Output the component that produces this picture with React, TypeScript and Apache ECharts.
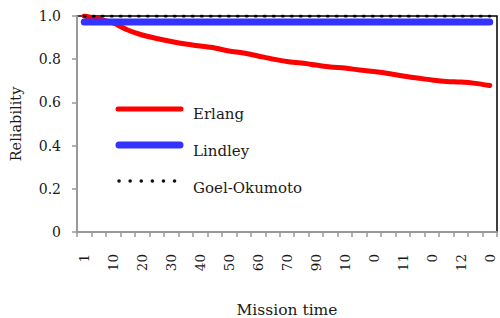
import React, { useEffect, useRef } from "react";
import * as echarts from "echarts";

const tickLabels = ["1", "10", "20", "30", "40", "50", "60", "70", "90", "10", "0", "11", "0", "12", "0"];

const seriesNames = ["Erlang", "Lindley", "Goel-Okumoto"];

const erlang = [
  1.0, 0.986, 0.968, 0.935, 0.912, 0.896, 0.882, 0.87, 0.861, 0.852,
  0.838, 0.829, 0.815, 0.801, 0.789, 0.782, 0.773, 0.764, 0.759, 0.75,
  0.743, 0.734, 0.722, 0.713, 0.704, 0.697, 0.694, 0.688, 0.678,
];

const lindley = [
  0.972, 0.972, 0.972, 0.972, 0.972, 0.972, 0.972, 0.972, 0.972, 0.972,
  0.972, 0.972, 0.972, 0.972, 0.972, 0.972, 0.972, 0.972, 0.972, 0.972,
  0.972, 0.972, 0.972, 0.972, 0.972, 0.972, 0.972, 0.972, 0.972,
];

const goel = [
  1.0, 1.0, 1.0, 1.0, 1.0, 1.0, 1.0, 1.0, 1.0, 1.0,
  1.0, 1.0, 1.0, 1.0, 1.0, 1.0, 1.0, 1.0, 1.0, 1.0,
  1.0, 1.0, 1.0, 1.0, 1.0, 1.0, 1.0, 1.0, 1.0,
];

const FONT = "DejaVu Serif";
const RED = "#ff0000";
const BLUE = "#3333ff";
const TEXT = "#1a1a1a";

export default function App() {
  const ref = useRef<HTMLDivElement>(null);
  useEffect(() => {
    if (!ref.current) return;
    const chart = echarts.init(ref.current, undefined, { renderer: "svg" });
    const categories: string[] = [];
    for (let i = 0; i < erlang.length; i++) {
      categories.push(i % 2 === 0 ? tickLabels[i / 2] ?? "" : "");
    }
    const legendText = (text: string, y: number) => ({
      type: "text",
      x: 193,
      y,
      style: {
        text,
        fontFamily: FONT,
        fontSize: 15,
        fill: TEXT,
        verticalAlign: "middle",
        align: "left",
      },
      z: 10,
    });
    chart.setOption({
      animation: false,
      backgroundColor: "#fff",
      textStyle: { fontFamily: FONT },
      grid: {
        left: 77,
        right: 3,
        top: 16,
        bottom: 86,
        containLabel: false,
        outerBoundsMode: "none",
        show: true,
        borderColor: "#000",
        borderWidth: 1.5,
        backgroundColor: "transparent",
      },
      graphic: [
        {
          type: "line",
          shape: { x1: 118, y1: 109, x2: 181, y2: 109 },
          style: { stroke: RED, lineWidth: 5, lineCap: "round" },
          z: 10,
        },
        legendText(seriesNames[0], 114),
        {
          type: "line",
          shape: { x1: 119, y1: 145, x2: 180, y2: 145 },
          style: { stroke: BLUE, lineWidth: 7, lineCap: "round" },
          z: 10,
        },
        legendText(seriesNames[1], 151),
        {
          type: "line",
          shape: { x1: 119, y1: 181, x2: 177, y2: 181 },
          style: { stroke: "#111", lineWidth: 3.5, lineCap: "round", lineDash: [0.1, 11] },
          z: 10,
        },
        legendText(seriesNames[2], 188),
      ],
      xAxis: {
        type: "category",
        data: categories,
        boundaryGap: true,
        name: "Mission time",
        nameLocation: "middle",
        nameGap: 70,
        nameTextStyle: { fontFamily: FONT, fontSize: 15.5, color: TEXT },
        axisLine: { lineStyle: { color: "#999", width: 2 } },
        axisTick: { show: true, interval: 0, length: 5, lineStyle: { color: "#999", width: 1.5 } },
        axisLabel: {
          interval: 0,
          rotate: 90,
          margin: 22,
          fontFamily: FONT,
          fontSize: 13.5,
          color: TEXT,
        },
        splitLine: { show: false },
      },
      yAxis: {
        type: "value",
        min: 0,
        max: 1,
        interval: 0.2,
        name: "Reliability",
        nameLocation: "middle",
        nameGap: 54,
        nameTextStyle: { fontFamily: FONT, fontSize: 14.5, color: TEXT },
        axisLine: { show: true, lineStyle: { color: "#999", width: 2 } },
        axisTick: { show: true, length: 5, lineStyle: { color: "#999", width: 1.5 } },
        axisLabel: {
          margin: 16,
          fontFamily: FONT,
          fontSize: 14,
          color: TEXT,
          formatter: (v: number) => (v === 0 ? "0" : v.toFixed(1)),
        },
        splitLine: { show: false },
      },
      series: [
        {
          name: seriesNames[0],
          type: "line",
          data: erlang,
          symbol: "none",
          smooth: 0.3,
          lineStyle: { color: RED, width: 5, cap: "round" },
          itemStyle: { color: RED },
          z: 2,
        },
        {
          name: seriesNames[1],
          type: "line",
          data: lindley,
          symbol: "none",
          lineStyle: { color: BLUE, width: 7, cap: "round" },
          itemStyle: { color: BLUE },
          z: 3,
        },
        {
          name: seriesNames[2],
          type: "line",
          data: goel,
          symbol: "none",
          lineStyle: { color: "#000", width: 3, type: [1, 8], cap: "round" },
          itemStyle: { color: "#000" },
          z: 4,
        },
      ],
    });
    return () => chart.dispose();
  }, []);
  return (
    <div
      ref={ref}
      style={{ position: "fixed", left: 0, top: 0, width: 500, height: 318, background: "#fff" }}
    />
  );
}
